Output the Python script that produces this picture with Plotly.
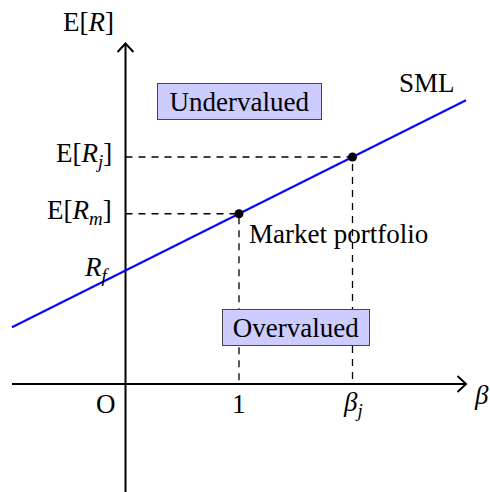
import plotly.graph_objects as go

# ---- data ----
x_axis_span = [-1, 3]          # beta axis extent
y_axis_span = [-1, 3]          # E[R] axis extent
sml_beta = [-1, 3]             # SML endpoints (beta)
sml_er = [0.5, 2.5]            # SML endpoints (E[R])
rf = 1.0
beta_m, er_m = 1.0, 1.5        # market portfolio
beta_j, er_j = 2.0, 2.0        # asset j
x_tick_vals = [0, 1, 2]
x_tick_text = ["O", "1", "<i>β<sub>j</sub></i>"]
y_tick_vals = [er_j, er_m]
y_tick_text = ["E[<i>R<sub>j</sub></i>]", "E[<i>R<sub>m</sub></i>]"]

FONT = "Liberation Serif"
FS = 27

fig = go.Figure()

# axes
fig.add_trace(go.Scatter(x=x_axis_span, y=[0, 0], mode="lines",
                         line=dict(color="black", width=2), hoverinfo="skip"))
fig.add_trace(go.Scatter(x=[0, 0], y=y_axis_span, mode="lines",
                         line=dict(color="black", width=2), hoverinfo="skip"))
# arrowheads
ah_l, ah_w = 0.075, 0.07
xt = x_axis_span[1]
fig.add_trace(go.Scatter(x=[xt - ah_l, xt, xt - ah_l], y=[ah_w, 0, -ah_w], mode="lines",
                         line=dict(color="black", width=2), hoverinfo="skip"))
yt = y_axis_span[1]
fig.add_trace(go.Scatter(x=[-ah_w, 0, ah_w], y=[yt - ah_l, yt, yt - ah_l], mode="lines",
                         line=dict(color="black", width=2), hoverinfo="skip"))

# dashed guides
for b, e in [(beta_m, er_m), (beta_j, er_j)]:
    fig.add_trace(go.Scatter(x=[0, b, b], y=[e, e, 0], mode="lines",
                             line=dict(color="black", width=1.3, dash="7px,6px"),
                             hoverinfo="skip"))

# SML
fig.add_trace(go.Scatter(x=sml_beta, y=sml_er, mode="lines",
                         line=dict(color="#0000ff", width=2), hoverinfo="skip"))
# points
fig.add_trace(go.Scatter(x=[beta_m, beta_j], y=[er_m, er_j], mode="markers",
                         marker=dict(color="black", size=9), hoverinfo="skip"))

font = dict(family=FONT, size=FS, color="black")
ann = []
# y labels
for v, t in zip(y_tick_vals, y_tick_text):
    ann.append(dict(x=0, y=v, text=t, showarrow=False, xanchor="right", yanchor="middle",
                    xshift=-12, yshift=2, font=font))
ann.append(dict(x=0, y=rf, text="<i>R<sub>f</sub></i>", showarrow=False, xanchor="right",
                yanchor="middle", xshift=-14, yshift=2, font=font))
ann.append(dict(x=0, y=3.19, text="E[<i>R</i>]", showarrow=False, xanchor="right",
                yanchor="middle", xshift=-10, font=font))
# x labels
for v, t in zip(x_tick_vals, x_tick_text):
    ann.append(dict(x=v, y=-0.175, text=t, showarrow=False, xanchor="center",
                    yanchor="middle", xshift=(-20 if v == 0 else 0), font=font))
ann.append(dict(x=3.14, y=-0.1, text="<i>β</i>", showarrow=False, xanchor="center",
                yanchor="middle", font=font))
ann.append(dict(x=beta_m, y=1.32, text="Market portfolio", showarrow=False,
                xanchor="left", yanchor="middle", xshift=8, font=font))
ann.append(dict(x=2.656, y=2.656, text="SML", showarrow=False, xanchor="center",
                yanchor="middle", font=font))
# region boxes
ann.append(dict(x=1.0, y=2.49, text="Undervalued", showarrow=False, xanchor="center",
                yanchor="middle", font=font, bgcolor="#ccccff", bordercolor="#444444",
                borderwidth=1, borderpad=0, width=163, height=35))
ann.append(dict(x=1.498, y=0.502, text="Overvalued", showarrow=False, xanchor="center",
                yanchor="middle", font=font, bgcolor="#ccccff", bordercolor="#444444",
                borderwidth=1, borderpad=0, width=146, height=35))

px_per_unit = 113.5
x0_px, y0_px = 125.5, 384.0
W, H = 490, 492
fig.update_layout(
    width=W, height=H, margin=dict(l=0, r=0, t=0, b=0),
    paper_bgcolor="white", plot_bgcolor="white", showlegend=False,
    xaxis=dict(visible=False, range=[-x0_px / px_per_unit, (W - x0_px) / px_per_unit],
               fixedrange=True),
    yaxis=dict(visible=False, range=[(y0_px - H) / px_per_unit, y0_px / px_per_unit],
               fixedrange=True),
    annotations=ann,
)
fig.write_html(
    "out.html",
    config={"displayModeBar": False},
    post_script="document.body.style.margin='0';document.body.style.overflow='hidden';",
)
